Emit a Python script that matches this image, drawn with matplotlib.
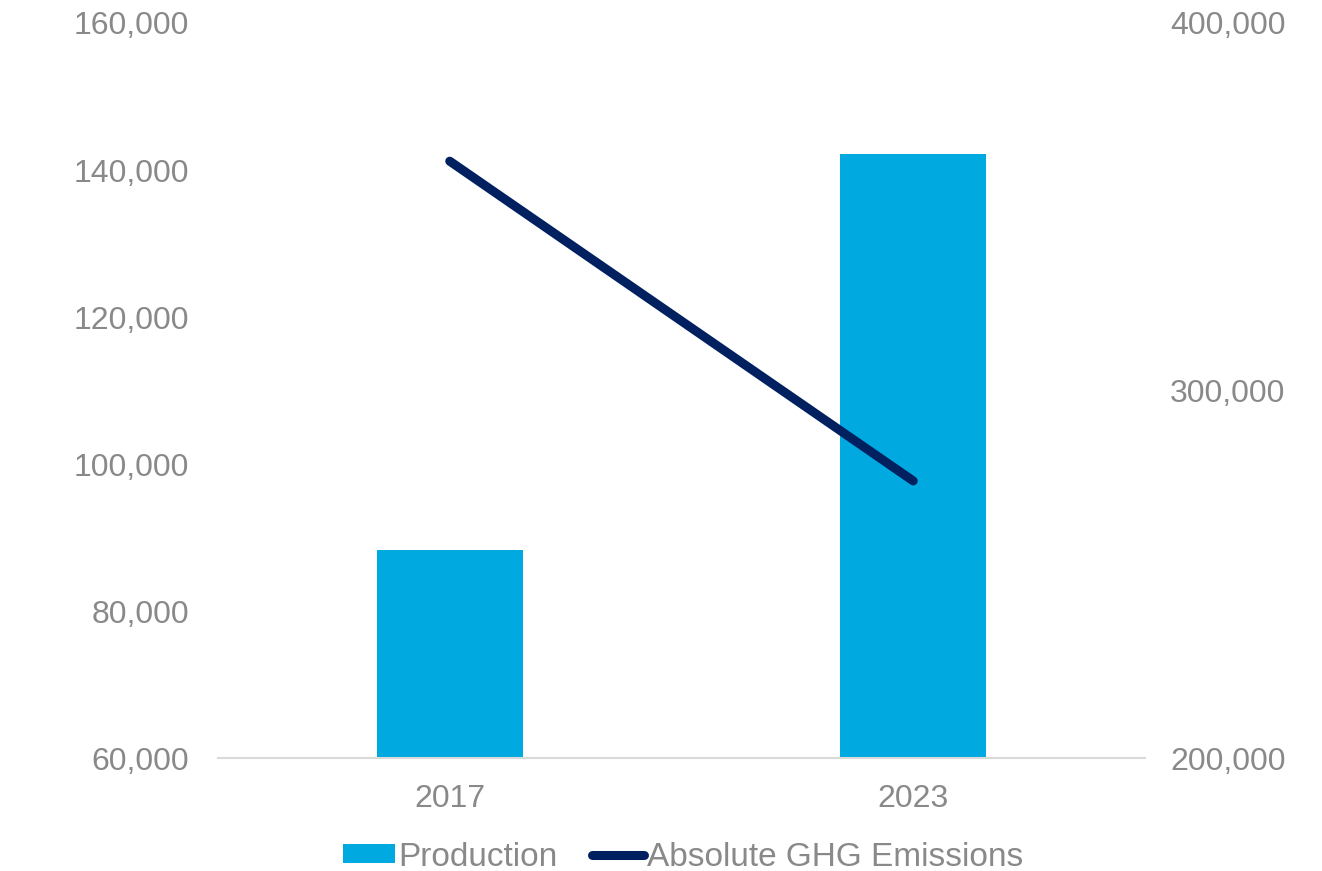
import matplotlib.pyplot as plt
from matplotlib.ticker import FuncFormatter

plt.rcParams['font.family'] = ['Liberation Sans', 'DejaVu Sans']

years = ['2017', '2023']
production = [88300, 142200]
ghg_emissions = [362400, 275400]

grey = '#898989'
fmt = FuncFormatter(lambda v, p: f'{v:,.0f}')

fig = plt.figure(figsize=(13.22, 8.71), dpi=100)
ax = fig.add_axes([0.1649, 0.1297, 0.7012, 0.8439])
ax2 = ax.twinx()

x = range(len(years))
bars = ax.bar(x, production, width=0.315, color='#00A9E0', label='Production', zorder=2)
line, = ax2.plot(x, ghg_emissions, color='#002060', lw=6.5, solid_capstyle='round',
                 label='Absolute GHG Emissions', zorder=3)

ax.set_xlim(-0.5, 1.5)
ax.set_ylim(60000, 160000)
ax.set_yticks(range(60000, 160001, 20000))
ax2.set_ylim(200000, 400000)
ax2.set_yticks([200000, 300000, 400000])
ax.yaxis.set_major_formatter(fmt)
ax2.yaxis.set_major_formatter(fmt)
ax.set_xticks(list(x))
ax.set_xticklabels(years)

for a in (ax, ax2):
    for s in a.spines.values():
        s.set_visible(False)
    a.tick_params(length=0, labelsize=23, labelcolor=grey)
ax.spines['bottom'].set_visible(True)
ax.spines['bottom'].set_color('#D9D9D9')
ax.spines['bottom'].set_linewidth(1.5)
ax.tick_params(axis='y', pad=21)
ax.tick_params(axis='x', pad=19)
ax2.tick_params(axis='y', pad=18)

ax.set_zorder(ax2.get_zorder() - 1)
ax2.patch.set_visible(False)

fig.legend([bars, line], ['Production', 'Absolute GHG Emissions'], loc='center',
           bbox_to_anchor=(0.517, 0.016), ncol=2, frameon=False, fontsize=24,
           labelcolor=grey, handlelength=1.55, handletextpad=0.1, columnspacing=1.05,
           handleheight=0.5)

fig.savefig('out.png', dpi=100)
